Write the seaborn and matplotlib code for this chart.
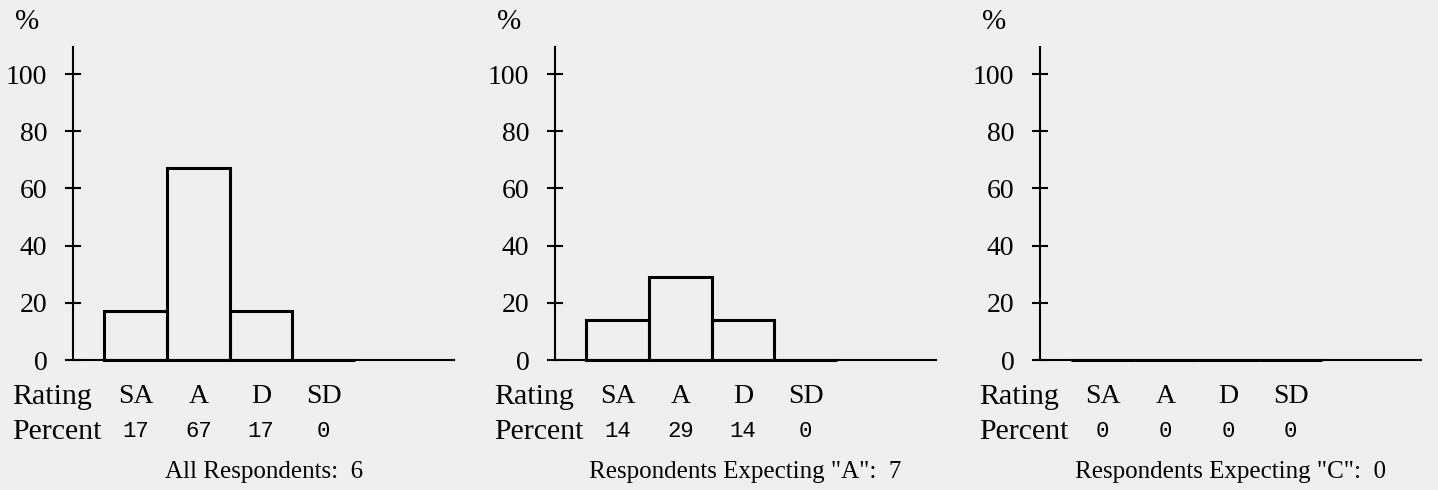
import numpy as np
import pandas as pd
import seaborn as sns
import matplotlib.pyplot as plt

# rating categories and the percentages
ratings = ["SA", "A", "D", "SD"]
pct_all = [17, 67, 17, 0]
pct_expect_a = [14, 29, 14, 0]
pct_expect_c = [0, 0, 0, 0]
captions = ["All Respondents:  6",
            'Respondents Expecting "A":  7',
            'Respondents Expecting "C":  0']
y_ticks = [0, 20, 40, 60, 80, 100]

sns.set_theme(style="white")
bg = "#efefef"
serif = ["Liberation Serif", "DejaVu Serif"]
mono = ["Liberation Mono", "DejaVu Sans Mono"]
plt.rcParams["font.family"] = serif
plt.rcParams["text.color"] = "black"
plt.rcParams["ytick.labelcolor"] = "black"

fig = plt.figure(figsize=(14.38, 4.90), dpi=100, facecolor=bg)

lefts = [0.0508, 0.386, 0.7232]
panels = [pct_all, pct_expect_a, pct_expect_c]

for left, values, caption in zip(lefts, panels, captions):
    ax = fig.add_axes([left, 0.2653, 0.265, 0.6388])
    ax.set_facecolor(bg)
    df = pd.DataFrame({"rating": ratings, "pct": values})
    sns.barplot(data=df, x="rating", y="pct", order=ratings, fill=False,
                color="black", width=1.0, linewidth=2.2, ax=ax)
    for p in ax.patches:
        p.set_clip_on(False)
        p.set_edgecolor("black")

    ax.set_xlim(-1.0, 5.08)
    ax.set_ylim(0, 109.5)
    ax.set_xticks([])
    ax.set_yticks(y_ticks)
    ax.set_yticklabels([str(t) for t in y_ticks], fontsize=20, family=serif,
                       color="black")
    ax.tick_params(axis="y", direction="inout", length=11, width=1.5,
                   color="black", pad=13, left=True)
    ax.set_xlabel("")
    ax.set_ylabel("")
    for s in ["top", "right"]:
        ax.spines[s].set_visible(False)
    for s in ["left", "bottom"]:
        ax.spines[s].set_color("black")
        ax.spines[s].set_linewidth(1.5)

    trans = ax.get_xaxis_transform()
    ax.text(-1.97, -0.118, "Rating", transform=trans, fontsize=21.5,
            ha="left", va="center", family=serif)
    ax.text(-1.97, -0.23, "Percent", transform=trans, fontsize=21.5,
            ha="left", va="center", family=serif)
    for i, (r, v) in enumerate(zip(ratings, values)):
        ax.text(i, -0.118, r, transform=trans, fontsize=20,
                ha="center", va="center", family=serif)
        ax.text(i, -0.23, str(v), transform=trans, fontsize=16,
                ha="center", va="center", family=mono)
    ax.text(0.5, -0.358, caption, transform=ax.transAxes, fontsize=18,
            ha="center", va="center", family=serif)
    ax.text(-0.12, 1.08, "%", transform=ax.transAxes, fontsize=21,
            ha="center", va="center", family=serif)

fig.savefig("out.png", dpi=100, facecolor=bg)
